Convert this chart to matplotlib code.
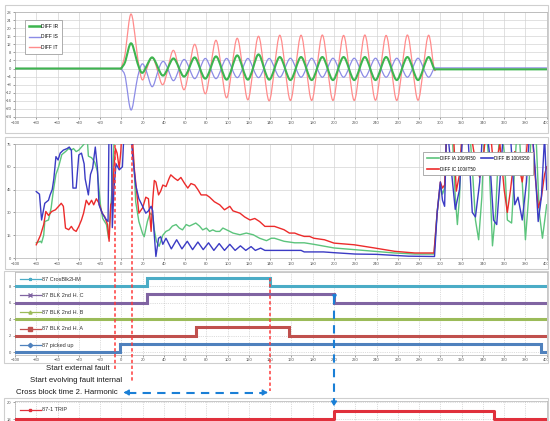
import numpy as np
import matplotlib
matplotlib.use("Agg")
import matplotlib.pyplot as plt
from matplotlib.path import Path
from matplotlib.patches import PathPatch, Rectangle, FancyArrowPatch
from matplotlib.lines import Line2D

plt.rcParams['font.family'] = ['Liberation Sans', 'DejaVu Sans']

# ---------------- data ----------------
# Panel 1: differential currents (knots of the smoothed curves, ms / A)
t_wave = [-100, -1, 0, 4, 9, 14, 19, 24, 29, 34, 39, 44, 49, 54, 59, 64, 69, 74, 79, 84,
          89, 94, 99, 104, 109, 114, 119, 124, 129, 134, 139, 144, 149, 154, 159, 164,
          169, 174, 179, 184, 189, 194, 199, 204, 209, 214, 219, 224, 229, 234, 239, 244,
          249, 254, 259, 264, 269, 274, 279, 284, 289, 294, 296, 400]
diff_ir = [0, 0, 0, 4, 12.5, 5, -2, 1.5, 5.5, 1, -3.5, 0.5, 5, 0.5, -4, 0.5, 5.5, 0, -5, 0.3,
           6, 0.3, -5.5, 0.3, 6.5, 0.3, -5.5, 0.5, 7, 0.5, -5.5, 0, 5.7, 0, -5.7, 0,
           5.7, 0, -5.7, 0, 5.7, 0, -5.7, 0, 5.7, 0, -5.7, 0, 5.7, 0, -5.7, 0,
           5.7, 0, -5.7, 0, 5.7, 0, -5.7, 0, 5.7, 0, -0.4, -0.4]
diff_is = [0, 0, 0, -5, -20.5, -8, 2, -2, -9, -2, 3.5, -0.5, -6, -0.5, 4.5, 0, -5, 0, 5, 0,
           -5, 0, 5, 0, -4.5, 0, 5, 0, -4.5, 0, 5, 0.3, -4.3, 0.3, 5.1, 0.3,
           -4.3, 0.3, 5.1, 0.3, -4.3, 0.3, 5.1, 0.3, -4.3, 0.3, 5.1, 0.3, -4.3, 0.3, 5.1, 0.3,
           -4.3, 0.3, 5.1, 0.3, -4.3, 0.3, 5.1, 0.3, -4.3, 0, 0.3, 0.3]
diff_it = [0, 0, 0, 9, 27, 11, -5, 0, 5.5, -1, -8, 0.5, 9, -0.5, -10.5, 0.5, 12, 0, -12.5, 0.5,
           14, 0, -14.5, 0.5, 15, 0, -15.5, 0.5, 16, 0, -16, 0.3, 16.5, 0.3, -15.8, 0.3,
           16.5, 0.3, -15.8, 0.3, 16.6, 0.3, -15.8, 0.3, 16.4, 0.3, -15.8, 0.3, 16.6, 0.3, -15.7, 0.3,
           16.4, 0.3, -15.8, 0.3, 16.6, 0.3, -15.7, 0.3, 16.5, 0, -0.3, -0.3]

# Panel 2: 2nd harmonic ratios in percent
t_ia = [-80, -76, -75, -73, -72, -68.5, -66, -64, -61.5, -59, -56, -52.5, -49.5, -47, -45,
        -42.5, -40, -37.5, -35, -34, -32, -31, -28, -25, -22.5, -21, -19.5, -17.5, -14, -12,
        -8.5, -7, -5.5, 8, 12, 13.5, 16.5, 20, 21.5, 24.5, 27, 29.5, 31, 33, 35.5, 39, 42, 45,
        48, 51.5, 54.5, 57.5, 61, 64, 67, 70, 73.5, 76.5, 80, 83, 86, 89, 92.5, 95.5, 99,
        102, 105, 111.5, 117.5, 124, 130, 136.5, 141, 144, 153, 163, 172, 181, 200, 219,
        238, 257, 276, 294, 297, 300, 302, 304, 306, 310, 314, 316, 318, 321, 326, 330, 333,
        336, 339, 342, 346, 349, 352, 356, 360, 363, 367, 370, 373, 377, 380, 383, 386, 390,
        393, 396, 400]
v_ia = [10, 11, 10, 15, 24, 25, 33, 44, 55, 60, 68, 70, 72, 71, 72,
        70, 71, 73, 75, 82, 78, 67, 66, 63, 57, 45, 34, 26, 22, 13,
        48, 74, 90, 90, 60, 37, 24, 16, 14, 24, 29.5, 28, 18.5, 11, 7.7, 15, 17.5, 18.5,
        21, 22, 19.7, 18.5, 22, 21, 22, 23, 21, 18.5, 19.7, 17.5, 18.5, 17.5, 17.5, 19.7, 18.5,
        17.5, 16.4, 15.3, 16.4, 15.3, 13, 11.4, 13, 13, 11, 10, 10, 9, 6.6, 5.5,
        4.4, 3.3, 2.6, 2.6, 30, 48, 42, 46, 90, 100, 40, 22, 40, 95, 100, 60, 25,
        12, 40, 95, 60, 8, 30, 90, 70, 25, 23, 60, 95, 50, 12, 40, 95, 80,
        30, 13, 35]

t_ib = [-80, -77, -75, -72, -68.5, -67, -65, -63.5, -61.5, -59.5, -57.5, -54.5, -51, -49,
        -47, -45.5, -42.5, -40, -37.5, -35, -34, -31, -29, -27, -24.5, -22.5, -21, -18, -15,
        -12.5, -11.5, -9.5, -8.5, -7, -5, -2, 1, 3, 9, 10.5, 13.5, 16.5, 20, 23, 25.5, 28,
        29.5, 31, 32.5, 35, 37, 39, 42, 47, 52, 57, 62, 67, 72, 77, 82, 87, 92, 97, 102, 107,
        112, 117, 122, 126, 131, 135, 169, 172, 190, 200, 220, 240, 257, 270, 294.5, 297, 300,
        302, 304, 306, 310, 314, 318, 322, 326, 330, 333, 337, 341, 346, 350, 353, 357, 361,
        366, 370, 373, 377, 381, 385, 389, 392, 395, 398, 400]
v_ib = [43.7, 42, 25, 36, 38, 41.5, 45, 52, 66.7, 64.5, 69, 71, 72, 73,
        71, 46, 46, 67.8, 69, 62, 52, 41.5, 55, 59, 73, 59, 35, 29.5, 26,
        24, 90, 90, 20, 45, 62, 58, 60, 90, 90, 68, 48, 39, 34, 29.5, 31, 34,
        31, 15, 1, 13, 14, 9, 13, 6, 12, 6, 11, 5.5, 10.5, 5.5, 10, 5, 9.5, 5, 9, 5,
        8, 5, 7.5, 5, 6.5, 5, 5, 4, 4, 3.5, 2.6, 2.4, 1.7, 1.2, 1, 30, 50,
        38, 34, 90, 60, 32, 45, 95, 80, 30, 27, 50, 100, 70, 25, 22, 60, 100,
        80, 35, 40, 25, 50, 95, 60, 24, 40, 80, 45]

t_ic = [-80, -76, -73, -71, -68.5, -65.5, -62, -59, -56.5, -54.5, -52.5, -49.5, -47, -45,
        -42.5, -40, -37.5, -35.5, -33, -30.5, -28, -26, -23.5, -21, -18, -15.5, -13, -11.5,
        -10, -8.5, -7, -5.5, -4, -2, -0.5, 1, 10, 12, 16.5, 20, 23, 25.5, 28, 29.5, 31, 32.5,
        35, 37, 39, 42, 45, 46.5, 50, 53, 56, 59.5, 62.5, 65.5, 69, 72, 75, 80, 83, 87.5, 92.5,
        97, 102, 105, 111.5, 116, 121, 125.5, 130, 135, 140, 144, 148.5, 153, 158, 163, 167,
        172, 177, 181, 191, 200, 219, 238, 257, 276, 294, 297, 300, 302, 304, 306, 311, 315,
        318, 322, 327, 331, 334, 337, 341, 345, 349, 352, 356, 360, 363, 366, 370, 374, 377,
        381, 385, 389, 392, 395, 398, 400]
v_ic = [8.7, 15, 22, 30.6, 28, 30.6, 31.7, 34, 36, 34, 19.7, 18.6, 20.8, 18.6,
        17.5, 20.8, 25, 29.5, 38, 35, 38, 35, 39, 36, 29.5, 27, 22, 11,
        35, 37, 59, 72, 69, 59, 70, 90, 85, 60, 29.5, 33, 40, 39, 17.5, 38, 51, 50,
        41.5, 44, 48, 47, 52.5, 54.7, 52.5, 51, 53, 49, 46, 49, 48, 45, 41.5, 41.5, 40, 37, 35,
        31.7, 34, 31, 29.5, 27, 25, 26, 24, 20.8, 20.8, 20.8, 19.7, 18.6, 16.4, 16.4, 15.3,
        14.2, 14.2, 13, 12, 9.8, 8.7, 6.6, 4.4, 3.3, 3.3, 30, 50, 46, 48, 85, 100, 44,
        55, 100, 90, 72, 60, 53, 70, 100, 68, 60, 75, 45, 30, 45, 70, 60, 50,
        70, 100, 55, 33, 40, 55, 60]

# Panel 3: binary states (change times in ms and levels)
t_xblk = [-100, 24, 140, 400]
v_xblk = [8, 9, 8, 8]
t_blk_c = [-100, 24, 200, 400]
v_blk_c = [6, 7, 6, 6]
t_blk_b = [-100, 400]
v_blk_b = [4, 4]
t_blk_a = [-100, 70, 158, 400]
v_blk_a = [2, 3, 2, 2]
t_pickup = [-100, -1, 395, 400]
v_pickup = [0, 1, 0, 0]

# Panel 4: trip output
t_trip = [-100, 200, 350, 400]
v_trip = [18, 19, 18, 18]

# Event markers (ms)
t_ext_fault = -6
t_int_fault = 10
t_xblk_end = 140
t_trip_evt = 200

x_ticks = list(range(-100, 401, 20))

# ---------------- helpers ----------------
W, H = 550, 421


def fx(px):
    return px / W


def fy(py):
    return 1 - py / H


def axes_at(left, top, right, bottom):
    return fig.add_axes([fx(left), fy(bottom), fx(right) - fx(left), (bottom - top) / H])


def smooth_line(ax, t, v, tension=1.35, **kw):
    """Draw a smoothed (cardinal spline) line through the knots."""
    t = np.asarray(t, float)
    v = np.asarray(v, float)
    m = np.zeros(len(t))
    m[1:-1] = tension * (v[2:] - v[:-2]) / (t[2:] - t[:-2])
    verts = [(t[0], v[0])]
    codes = [Path.MOVETO]
    for i in range(len(t) - 1):
        dt = min(t[i + 1] - t[i], 6.0)
        verts += [(t[i] + dt / 3, v[i] + m[i] * dt / 3),
                  (t[i + 1] - dt / 3, v[i + 1] - m[i + 1] * dt / 3),
                  (t[i + 1], v[i + 1])]
        codes += [Path.CURVE4] * 3
    ax.add_patch(PathPatch(Path(verts, codes), fill=False, capstyle='round',
                           joinstyle='round', **kw))


def style_axes(ax, grid_ls='-'):
    ax.set_xlim(-100, 400)
    ax.set_xticks(x_ticks)
    ax.tick_params(labelsize=3, length=1.5, width=0.4, colors='#555555', pad=1.2)
    for s in ax.spines.values():
        s.set_color('#b0b0b0')
        s.set_linewidth(0.5)
    ax.grid(True, color='#d4d4d4', lw=0.5, ls=grid_ls)
    ax.set_axisbelow(True)


fig = plt.figure(figsize=(W / 100, H / 100), dpi=100)

# chart frames
for (l, t, r, b) in [(5, 5, 548, 133), (5, 137, 548, 269), (4, 271, 548, 363), (4, 398, 548, 430)]:
    fig.add_artist(Rectangle((fx(l), fy(b)), fx(r) - fx(l), (b - t) / H, transform=fig.transFigure,
                             fill=False, ec='#cfcfcf', lw=0.8))

# ---------------- panel 1 ----------------
ax1 = axes_at(15, 12, 546.7, 117)
style_axes(ax1)
ax1.set_ylim(-24, 28)
ax1.set_yticks(range(-24, 29, 4))
c_ir, c_is, c_it = '#3db54f', '#8c8ce6', '#ff8c8c'
smooth_line(ax1, t_wave, diff_it, ec=c_it, lw=0.9, zorder=3)
smooth_line(ax1, t_wave, diff_is, ec=c_is, lw=0.9, zorder=3)
smooth_line(ax1, t_wave, diff_ir, ec=c_ir, lw=1.5, zorder=4)
h1 = [Line2D([], [], color=c_ir, lw=1.8), Line2D([], [], color=c_is, lw=1.0),
      Line2D([], [], color=c_it, lw=1.0)]
leg1 = ax1.legend(h1, ['DIFF IR', 'DIFF IS', 'DIFF IT'], loc='upper left',
                  bbox_to_anchor=(10 / 531.7, 97 / 105), borderaxespad=0, fontsize=3.5,
                  handlelength=2.2, handletextpad=0.3, labelspacing=1.15, borderpad=0.8,
                  fancybox=False, edgecolor='#a0a0a0', framealpha=1)
leg1.get_frame().set_linewidth(0.6)

# ---------------- panel 2 ----------------
ax2 = axes_at(15, 144, 546.7, 258)
style_axes(ax2)
ax2.set_ylim(0, 75)
ax2.set_yticks(range(0, 76, 15))
c_ia, c_ib, c_ic = '#5cc47c', '#3b3bc4', '#ec2b2b'
ax2.plot(t_ia, v_ia, color=c_ia, lw=1.0, zorder=3)
ax2.plot(t_ic, v_ic, color=c_ic, lw=1.0, zorder=3)
ax2.plot(t_ib, v_ib, color=c_ib, lw=1.0, zorder=4)
h2 = [Line2D([], [], color=c_ia, lw=1.2), Line2D([], [], color=c_ic, lw=1.2),
      Line2D([], [], color=c_ib, lw=1.2)]
leg2 = ax2.legend(h2, ['DIFF IA 100/IR50', 'DIFF IC 100/IT50', 'DIFF IB 100/IS50'], ncol=2,
                  loc='upper left', bbox_to_anchor=(408 / 531.7, 106 / 114), borderaxespad=0,
                  fontsize=3.3, handlelength=2.6, handletextpad=0.3, labelspacing=1.3,
                  columnspacing=1.2, borderpad=0.8, fancybox=False, edgecolor='#a0a0a0',
                  framealpha=1)
leg2.get_frame().set_linewidth(0.6)

# ---------------- panel 3 ----------------
ax3 = axes_at(15, 272, 546.7, 354.5)
style_axes(ax3, grid_ls=':')
ax3.set_ylim(-0.3, 9.7)
ax3.set_yticks(range(0, 9, 2))
ax3.grid(True, color='#bdbdbd', lw=0.5, ls=':')
states = [
    (t_xblk, v_xblk, '#4bacc6', '*', '87 CrosBlk2HM', 8.8),
    (t_blk_c, v_blk_c, '#8064a2', 'x', '87 BLK 2nd H. C', 6.9),
    (t_blk_b, v_blk_b, '#9bbb59', '^', '87 BLK 2nd H. B', 4.85),
    (t_blk_a, v_blk_a, '#c0504d', 's', '87 BLK 2nd H. A', 2.8),
    (t_pickup, v_pickup, '#4f81bd', 'D', '87 picked up', 0.85),
]
for t, v, col, mk, lab, ly in states:
    ax3.step(t, v, where='post', color=col, lw=2.2, solid_joinstyle='miter', zorder=3)
    ax3.plot([-95, -85.5, -76], [ly, ly, ly], color=col, lw=0.9, marker=mk, ms=2.2,
             markevery=[1], zorder=4)
    ax3.text(-74.5, ly, lab, fontsize=4, va='center', ha='left', color='#333333', zorder=4)

# ---------------- panel 4 ----------------
ax4 = axes_at(15, 401.2, 546.7, 420.7)
style_axes(ax4, grid_ls=':')
ax4.set_ylim(17.8, 20.1)
ax4.set_yticks([18, 20])
ax4.grid(True, color='#bdbdbd', lw=0.5, ls=':')
ax4.tick_params(axis='x', labelbottom=False, length=0)
ax4.step(t_trip, v_trip, where='post', color='#e0303c', lw=2.2, zorder=3)
ax4.plot([-95, -85.5, -76], [19.1, 19.1, 19.1], color='#e0303c', lw=0.9, marker='s', ms=1.8,
         markevery=[1], zorder=4)
ax4.text(-74.5, 19.1, '87-1 TRIP', fontsize=4, va='center', ha='left', color='#333333')

# ---------------- event annotations ----------------
fig.canvas.draw()


def time_to_fx(t):
    disp = ax3.transData.transform((t, 0))
    return fig.transFigure.inverted().transform(disp)[0]


red_dash = dict(color='#ff3b3b', lw=1.1, ls=(0, (2.2, 1.6)), transform=fig.transFigure, zorder=10)
for t, y0, y1 in [(t_ext_fault, 145, 370), (t_int_fault, 145, 383), (t_xblk_end, 278, 391)]:
    x = time_to_fx(t)
    fig.add_artist(Line2D([x, x], [fy(y0), fy(y1)], **red_dash))

txt = dict(fontsize=5.6, ha='right', va='center', color='#1a1a1a', transform=fig.transFigure)
fig.text(fx(110), fy(369), 'Start external fault', **txt)
fig.text(fx(122), fy(381), 'Start evolving fault internal', **txt)
fig.text(fx(118), fy(392.5), 'Cross block time 2. Harmonic', **txt)

blue = '#1a7fd6'
xa, xb = time_to_fx(0), time_to_fx(t_xblk_end)
fig.add_artist(Line2D([xa + 0.012, xb - 0.012], [fy(392.5), fy(392.5)], color=blue, lw=1.5,
                      ls=(0, (4, 3)), transform=fig.transFigure, zorder=10))
for x0, x1 in [(xa + 0.014, xa), (xb - 0.014, xb)]:
    fig.add_artist(FancyArrowPatch((x0, fy(392.5)), (x1, fy(392.5)), transform=fig.transFigure,
                                   arrowstyle='-|>,head_length=2.5,head_width=1.6', color=blue,
                                   lw=1.2, mutation_scale=1, zorder=11))

xt = time_to_fx(t_trip_evt)
fig.add_artist(Line2D([xt, xt], [fy(296), fy(402)], color=blue, lw=1.5, ls=(0, (4, 3)),
                      transform=fig.transFigure, zorder=10))
fig.add_artist(FancyArrowPatch((xt, fy(400)), (xt, fy(409)), transform=fig.transFigure,
                               arrowstyle='-|>,head_length=2.5,head_width=1.6', color=blue,
                               lw=1.2, mutation_scale=1, zorder=11))
fig.add_artist(Line2D([xt], [fy(296)], marker='v', ms=2.5, color=blue, transform=fig.transFigure,
                      zorder=11))

fig.savefig('out.png', dpi=100)
